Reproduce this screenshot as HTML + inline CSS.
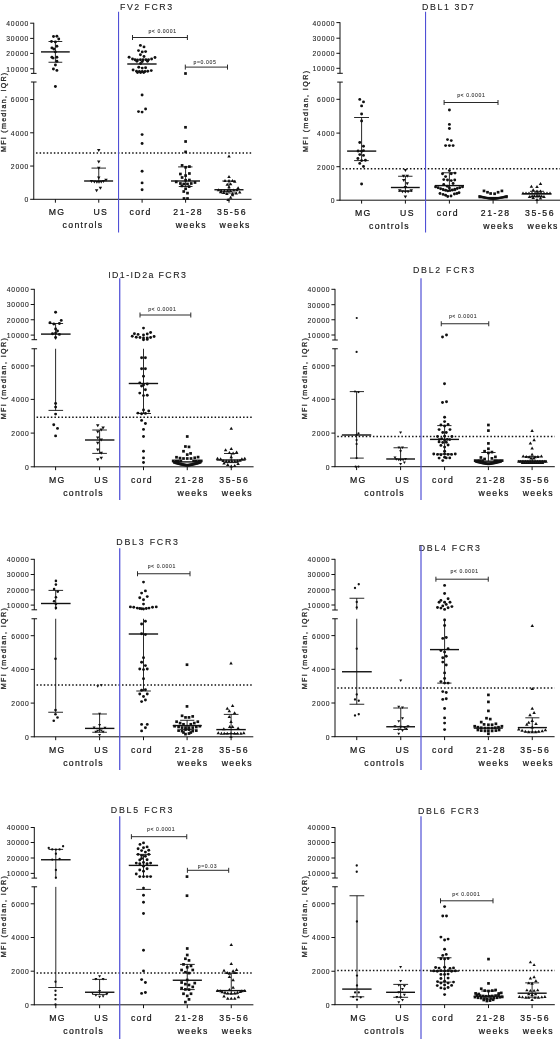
<!DOCTYPE html>
<html><head><meta charset="utf-8"><title>MFI panels</title><style>
html,body{margin:0;padding:0;background:#fff}
body{width:560px;height:1039px;overflow:hidden}
svg{display:block;will-change:transform}
text{font-family:"Liberation Sans",sans-serif;fill:#222;stroke:#222;stroke-width:0.1px}
.yt text{font-size:6.8px;letter-spacing:0.8px;text-anchor:end}
.yl{font-size:7.1px;letter-spacing:1.4px;text-anchor:start;stroke-width:0.28px}
.tt{font-size:8.8px;text-anchor:start}
.xl text{font-size:8.7px;letter-spacing:1.3px;text-anchor:middle;fill:#111;stroke:#111;stroke-width:0.2px}
.xl text.dg{letter-spacing:1.55px}
.pv{font-size:5.1px;letter-spacing:0.6px;text-anchor:middle;fill:#444}
</style></head>
<body><svg width="560" height="1039" viewBox="0 0 560 1039">
<rect width="560" height="1039" fill="#fff"/>
<g stroke="#111" stroke-width="1" fill="none">
<path d="M33.75 199.7V82"/>
<path d="M33.75 73.4V22.8"/>
<path d="M33.35 199.3H251.5"/>
<path d="M30.95 82h5.6M30.95 73.4h5.6"/>
<path d="M33.75 199.3h-3.6"/>
<path d="M33.75 166.05h-3.6"/>
<path d="M33.75 132.8h-3.6"/>
<path d="M33.75 99.55h-3.6"/>
<path d="M33.75 68.8h-3.6"/>
<path d="M33.75 53.4h-3.6"/>
<path d="M33.75 38.4h-3.6"/>
<path d="M33.75 23.2h-3.6"/>
<path d="M55.4 199.3v3.4"/>
<path d="M98.75 199.3v3.4"/>
<path d="M142.1 199.3v3.4"/>
<path d="M185.6 199.3v3.4"/>
<path d="M229 199.3v3.4"/>
</g>
<g class="yt">
<text x="29.15" y="202.2">0</text>
<text x="29.15" y="168.95">2000</text>
<text x="29.15" y="135.7">4000</text>
<text x="29.15" y="102.45">6000</text>
<text x="29.15" y="71.7">10000</text>
<text x="29.15" y="56.3">20000</text>
<text x="29.15" y="41.3">30000</text>
<text x="29.15" y="26.1">40000</text>
</g>
<text class="yl" style="letter-spacing:1.28px" transform="translate(5.9 152) rotate(-90)">MFI (median, IQR)</text>
<text class="tt" x="120" y="10" style="letter-spacing:1.51px">FV2 FCR3</text>
<g class="xl">
<text x="57.05" y="214.8">MG</text>
<text x="100.8" y="214.8">US</text>
<text x="83.03" y="228">controls</text>
<text x="140.55" y="214.8">cord</text>
<text class="dg" x="188.25" y="214.8">21-28</text>
<text class="dg" x="232.05" y="214.8">35-56</text>
<text x="191.35" y="228">weeks</text>
<text x="235.15" y="228">weeks</text>
</g>
<path d="M36.05 152.9H251.5" stroke="#111" stroke-width="1.5" stroke-dasharray="1.5 2.06" fill="none"/>
<path d="M118.55 11.8V232.5" stroke="#5050d6" stroke-width="1.1" fill="none"/>
<g fill="#111">
<circle cx="53.5" cy="36.5" r="1.45"/>
<circle cx="56.9" cy="36.25" r="1.45"/>
<circle cx="58.75" cy="39" r="1.45"/>
<circle cx="51.5" cy="41.5" r="1.45"/>
<circle cx="55.4" cy="41.9" r="1.45"/>
<circle cx="56.9" cy="46.25" r="1.45"/>
<circle cx="51.9" cy="47.9" r="1.45"/>
<circle cx="53.75" cy="49" r="1.45"/>
<circle cx="55.4" cy="51.9" r="1.45"/>
<circle cx="51.9" cy="57.25" r="1.45"/>
<circle cx="53.1" cy="58.1" r="1.45"/>
<circle cx="56.9" cy="57.25" r="1.45"/>
<circle cx="56.9" cy="61.25" r="1.45"/>
<circle cx="55.4" cy="65" r="1.45"/>
<circle cx="53.4" cy="69" r="1.45"/>
<circle cx="56.9" cy="70.4" r="1.45"/>
<circle cx="55.4" cy="86.5" r="1.45"/>
</g>
<path d="M41 51.9H69.75" stroke="#111" stroke-width="1.4" fill="none"/>
<path d="M48.5 41.5H62.25M48.5 62.25H62.25M55.4 41.5V62.25" stroke="#111" stroke-width="0.9" fill="none"/>
<g fill="#111">
<path d="M98.75 151.95l1.75 -3h-3.5z"/>
<path d="M98.75 163.6l1.75 -3h-3.5z"/>
<path d="M98.75 169.8l1.75 -3h-3.5z"/>
<path d="M98.75 179.45l1.75 -3h-3.5z"/>
<path d="M91.5 182.95l1.75 -3h-3.5z"/>
<path d="M94.4 183.6l1.75 -3h-3.5z"/>
<path d="M96.9 183.8l1.75 -3h-3.5z"/>
<path d="M99 183.8l1.75 -3h-3.5z"/>
<path d="M101.25 183.6l1.75 -3h-3.5z"/>
<path d="M103.5 182.95l1.75 -3h-3.5z"/>
<path d="M106 181.7l1.75 -3h-3.5z"/>
<path d="M100.4 189.8l1.75 -3h-3.5z"/>
<path d="M96.6 192.3l1.75 -3h-3.5z"/>
</g>
<path d="M84.1 181H113.1" stroke="#111" stroke-width="1.4" fill="none"/>
<path d="M91.5 168.1H106M98.75 168.1V181" stroke="#111" stroke-width="0.9" fill="none"/>
<g fill="#111">
<circle cx="140.4" cy="45.4" r="1.45"/>
<circle cx="144" cy="46.9" r="1.45"/>
<circle cx="138.5" cy="50.6" r="1.45"/>
<circle cx="142.25" cy="51.9" r="1.45"/>
<circle cx="145.6" cy="51.6" r="1.45"/>
<circle cx="140.4" cy="54.75" r="1.45"/>
<circle cx="144" cy="56.5" r="1.45"/>
<circle cx="129.1" cy="57.25" r="1.45"/>
<circle cx="132.5" cy="59" r="1.45"/>
<circle cx="135" cy="59.75" r="1.45"/>
<circle cx="137.5" cy="60" r="1.45"/>
<circle cx="140.4" cy="59.75" r="1.45"/>
<circle cx="143.1" cy="59.75" r="1.45"/>
<circle cx="145.9" cy="59.75" r="1.45"/>
<circle cx="148.5" cy="59.75" r="1.45"/>
<circle cx="151.6" cy="59" r="1.45"/>
<circle cx="155" cy="57.5" r="1.45"/>
<circle cx="136.9" cy="61.25" r="1.45"/>
<circle cx="142.25" cy="61.6" r="1.45"/>
<circle cx="147.5" cy="61.25" r="1.45"/>
<circle cx="140.6" cy="63.5" r="1.45"/>
<circle cx="138.75" cy="67.25" r="1.45"/>
<circle cx="142.25" cy="68.1" r="1.45"/>
<circle cx="145.6" cy="67.75" r="1.45"/>
<circle cx="133.1" cy="70" r="1.45"/>
<circle cx="136.5" cy="71.25" r="1.45"/>
<circle cx="139.4" cy="71.5" r="1.45"/>
<circle cx="142.25" cy="71.5" r="1.45"/>
<circle cx="145" cy="71.5" r="1.45"/>
<circle cx="147.75" cy="71.25" r="1.45"/>
<circle cx="151.25" cy="70.6" r="1.45"/>
<circle cx="137.5" cy="72.5" r="1.45"/>
<circle cx="140.6" cy="72.5" r="1.45"/>
<circle cx="143.75" cy="72.5" r="1.45"/>
<circle cx="142.1" cy="95" r="1.45"/>
<circle cx="145.6" cy="109" r="1.45"/>
<circle cx="138.5" cy="111.6" r="1.45"/>
<circle cx="142.1" cy="112.1" r="1.45"/>
<circle cx="142.1" cy="134.6" r="1.45"/>
<circle cx="142.1" cy="143.5" r="1.45"/>
<circle cx="142.1" cy="171.25" r="1.45"/>
<circle cx="142.1" cy="182.9" r="1.45"/>
<circle cx="142.1" cy="189.75" r="1.45"/>
</g>
<path d="M127.25 64H156.6" stroke="#111" stroke-width="1.4" fill="none"/>
<g fill="#111">
<rect x="184.15" y="72.15" width="2.7" height="2.7"/>
<rect x="184.15" y="125.95" width="2.7" height="2.7"/>
<rect x="184.25" y="140.15" width="2.7" height="2.7"/>
<rect x="184.25" y="150.55" width="2.7" height="2.7"/>
<rect x="180.75" y="164.05" width="2.7" height="2.7"/>
<rect x="184.25" y="165.9" width="2.7" height="2.7"/>
<rect x="188.05" y="165.25" width="2.7" height="2.7"/>
<rect x="179.05" y="172.65" width="2.7" height="2.7"/>
<rect x="188.05" y="172.15" width="2.7" height="2.7"/>
<rect x="184.25" y="174.25" width="2.7" height="2.7"/>
<rect x="180.75" y="176.15" width="2.7" height="2.7"/>
<rect x="188.05" y="178.65" width="2.7" height="2.7"/>
<rect x="184.25" y="178.9" width="2.7" height="2.7"/>
<rect x="174.9" y="180.55" width="2.7" height="2.7"/>
<rect x="193.65" y="181.15" width="2.7" height="2.7"/>
<rect x="179.05" y="182.15" width="2.7" height="2.7"/>
<rect x="182.4" y="182.65" width="2.7" height="2.7"/>
<rect x="186.15" y="182.65" width="2.7" height="2.7"/>
<rect x="189.9" y="182.15" width="2.7" height="2.7"/>
<rect x="180.55" y="184.55" width="2.7" height="2.7"/>
<rect x="187.75" y="185.25" width="2.7" height="2.7"/>
<rect x="184.25" y="187.4" width="2.7" height="2.7"/>
<rect x="182.4" y="190.15" width="2.7" height="2.7"/>
<rect x="186.15" y="191.75" width="2.7" height="2.7"/>
<rect x="182.65" y="197.15" width="2.7" height="2.7"/>
<rect x="186.15" y="197.15" width="2.7" height="2.7"/>
</g>
<path d="M171 181H200" stroke="#111" stroke-width="1.4" fill="none"/>
<path d="M178.1 166.9H192.5M178.75 186.5H192.5M185.6 166.9V186.5" stroke="#111" stroke-width="0.9" fill="none"/>
<g fill="#111">
<path d="M229 154.55l1.75 3h-3.5z"/>
<path d="M229 174.9l1.75 3h-3.5z"/>
<path d="M225 178.9l1.75 3h-3.5z"/>
<path d="M229 178.9l1.75 3h-3.5z"/>
<path d="M232.5 178.9l1.75 3h-3.5z"/>
<path d="M234.75 179.8l1.75 3h-3.5z"/>
<path d="M227.25 182.7l1.75 3h-3.5z"/>
<path d="M230.6 182.3l1.75 3h-3.5z"/>
<path d="M229 185.2l1.75 3h-3.5z"/>
<path d="M238.1 186.2l1.75 3h-3.5z"/>
<path d="M218.5 188.3l1.75 3h-3.5z"/>
<path d="M221.25 188.9l1.75 3h-3.5z"/>
<path d="M224.4 188.9l1.75 3h-3.5z"/>
<path d="M227.5 188.9l1.75 3h-3.5z"/>
<path d="M230.6 188.9l1.75 3h-3.5z"/>
<path d="M233.75 188.55l1.75 3h-3.5z"/>
<path d="M236.9 188.3l1.75 3h-3.5z"/>
<path d="M220.6 190.2l1.75 3h-3.5z"/>
<path d="M223.75 191.05l1.75 3h-3.5z"/>
<path d="M226.9 192.05l1.75 3h-3.5z"/>
<path d="M232.5 192.05l1.75 3h-3.5z"/>
<path d="M236.25 191.4l1.75 3h-3.5z"/>
<path d="M239.75 190.55l1.75 3h-3.5z"/>
<path d="M232.5 193.3l1.75 3h-3.5z"/>
<path d="M230.6 195.8l1.75 3h-3.5z"/>
<path d="M228.1 198.05l1.75 3h-3.5z"/>
</g>
<path d="M214.4 189.75H243.5" stroke="#111" stroke-width="1.4" fill="none"/>
<path d="M222.25 181H235.6M221 193H237M229 181V193" stroke="#111" stroke-width="0.9" fill="none"/>
<path d="M132.5 37.5H187.4M132.5 35v5M187.4 35v5" stroke="#2a2a2a" stroke-width="1" fill="none"/>
<text class="pv" x="162.5" y="33.3">p&lt; 0.0001</text>
<path d="M185.3 67.1H227.5M185.3 64.6v5M227.5 64.6v5" stroke="#2a2a2a" stroke-width="1" fill="none"/>
<text class="pv" x="205" y="63.9">p=0.005</text>
<g stroke="#111" stroke-width="1" fill="none">
<path d="M340 200.6V82.1"/>
<path d="M340 73.3V22.2"/>
<path d="M339.6 200.2H560"/>
<path d="M337.2 82.1h5.6M337.2 73.3h5.6"/>
<path d="M340 200.2h-3.6"/>
<path d="M340 166.7h-3.6"/>
<path d="M340 133.1h-3.6"/>
<path d="M340 99.3h-3.6"/>
<path d="M340 68.3h-3.6"/>
<path d="M340 53.3h-3.6"/>
<path d="M340 38.2h-3.6"/>
<path d="M340 22.6h-3.6"/>
<path d="M361.6 200.2v3.4"/>
<path d="M405.4 200.2v3.4"/>
<path d="M449.4 200.2v3.4"/>
<path d="M493.1 200.2v3.4"/>
<path d="M537 200.2v3.4"/>
</g>
<g class="yt">
<text x="335.4" y="203.1">0</text>
<text x="335.4" y="169.6">2000</text>
<text x="335.4" y="136">4000</text>
<text x="335.4" y="102.2">6000</text>
<text x="335.4" y="71.2">10000</text>
<text x="335.4" y="56.2">20000</text>
<text x="335.4" y="41.1">30000</text>
<text x="335.4" y="25.5">40000</text>
</g>
<text class="yl" style="letter-spacing:1.4px" transform="translate(308 152.1) rotate(-90)">MFI (median, IQR)</text>
<text class="tt" x="422" y="10" style="letter-spacing:1.59px">DBL1 3D7</text>
<g class="xl">
<text x="363.25" y="215.5">MG</text>
<text x="407.45" y="215.5">US</text>
<text x="389.45" y="228.7">controls</text>
<text x="447.85" y="215.5">cord</text>
<text class="dg" x="495.75" y="215.5">21-28</text>
<text class="dg" x="540.05" y="215.5">35-56</text>
<text x="498.85" y="228.7">weeks</text>
<text x="543.15" y="228.7">weeks</text>
</g>
<path d="M342.3 168.75H560" stroke="#111" stroke-width="1.5" stroke-dasharray="1.5 2.06" fill="none"/>
<path d="M425.55 11.8V232.5" stroke="#5050d6" stroke-width="1.1" fill="none"/>
<g fill="#111">
<circle cx="359.75" cy="99.4" r="1.45"/>
<circle cx="363.5" cy="101.9" r="1.45"/>
<circle cx="361.6" cy="105.9" r="1.45"/>
<circle cx="361.6" cy="114" r="1.45"/>
<circle cx="361.6" cy="121" r="1.45"/>
<circle cx="359.75" cy="142.5" r="1.45"/>
<circle cx="363.5" cy="146.25" r="1.45"/>
<circle cx="358.1" cy="151" r="1.45"/>
<circle cx="363.5" cy="150.6" r="1.45"/>
<circle cx="361.6" cy="151.2" r="1.45"/>
<circle cx="359.75" cy="154.6" r="1.45"/>
<circle cx="363.5" cy="155.4" r="1.45"/>
<circle cx="357.9" cy="158.5" r="1.45"/>
<circle cx="361.6" cy="160.6" r="1.45"/>
<circle cx="365.4" cy="160.25" r="1.45"/>
<circle cx="359.75" cy="163.4" r="1.45"/>
<circle cx="363.5" cy="166.5" r="1.45"/>
<circle cx="361.6" cy="184" r="1.45"/>
</g>
<path d="M347.1 151.1H376.25" stroke="#111" stroke-width="1.4" fill="none"/>
<path d="M354.1 117.5H369M354.1 160.6H368.75M361.6 117.5V160.6" stroke="#111" stroke-width="0.9" fill="none"/>
<g fill="#111">
<path d="M405.4 171.95l1.75 -3h-3.5z"/>
<path d="M403.5 177.7l1.75 -3h-3.5z"/>
<path d="M407.25 177.7l1.75 -3h-3.5z"/>
<path d="M403.75 182.1l1.75 -3h-3.5z"/>
<path d="M407.25 185.2l1.75 -3h-3.5z"/>
<path d="M405.4 188.95l1.75 -3h-3.5z"/>
<path d="M399.75 192.3l1.75 -3h-3.5z"/>
<path d="M402.5 193.2l1.75 -3h-3.5z"/>
<path d="M405.4 193.6l1.75 -3h-3.5z"/>
<path d="M408.1 193.2l1.75 -3h-3.5z"/>
<path d="M411.25 192.3l1.75 -3h-3.5z"/>
<path d="M405.4 198.6l1.75 -3h-3.5z"/>
</g>
<path d="M390.9 187.5H419.75" stroke="#111" stroke-width="1.4" fill="none"/>
<path d="M398.1 176.25H412.5M398.1 191.25H412.5M405.4 176.25V191.25" stroke="#111" stroke-width="0.9" fill="none"/>
<g fill="#111">
<circle cx="449.4" cy="110" r="1.45"/>
<circle cx="449.4" cy="124.4" r="1.45"/>
<circle cx="449.4" cy="128.5" r="1.45"/>
<circle cx="447.5" cy="139.6" r="1.45"/>
<circle cx="451.25" cy="140.6" r="1.45"/>
<circle cx="445.6" cy="145.6" r="1.45"/>
<circle cx="449.4" cy="145.6" r="1.45"/>
<circle cx="453.1" cy="145.6" r="1.45"/>
<circle cx="449.4" cy="170.6" r="1.45"/>
<circle cx="442.5" cy="173.75" r="1.45"/>
<circle cx="451.25" cy="173.75" r="1.45"/>
<circle cx="455" cy="173.1" r="1.45"/>
<circle cx="445.6" cy="176.6" r="1.45"/>
<circle cx="443.75" cy="179.6" r="1.45"/>
<circle cx="447.5" cy="180" r="1.45"/>
<circle cx="451.25" cy="180.6" r="1.45"/>
<circle cx="454.75" cy="180" r="1.45"/>
<circle cx="453.1" cy="183.5" r="1.45"/>
<circle cx="443.75" cy="184.4" r="1.45"/>
<circle cx="447.25" cy="186.25" r="1.45"/>
<circle cx="449.4" cy="188" r="1.45"/>
<circle cx="435.6" cy="186.9" r="1.45"/>
<circle cx="438.1" cy="187.75" r="1.45"/>
<circle cx="440.6" cy="188.75" r="1.45"/>
<circle cx="443.1" cy="189.5" r="1.45"/>
<circle cx="445.6" cy="190.25" r="1.45"/>
<circle cx="447.75" cy="190.9" r="1.45"/>
<circle cx="450" cy="190.6" r="1.45"/>
<circle cx="452.25" cy="190" r="1.45"/>
<circle cx="454.75" cy="189.25" r="1.45"/>
<circle cx="457.25" cy="188.5" r="1.45"/>
<circle cx="459.75" cy="187.75" r="1.45"/>
<circle cx="462.5" cy="186.9" r="1.45"/>
<circle cx="440" cy="193.5" r="1.45"/>
<circle cx="443.1" cy="194.4" r="1.45"/>
<circle cx="445.6" cy="195.25" r="1.45"/>
<circle cx="447.75" cy="196.5" r="1.45"/>
<circle cx="451" cy="196" r="1.45"/>
<circle cx="454.4" cy="194" r="1.45"/>
<circle cx="456.9" cy="193.5" r="1.45"/>
<circle cx="459" cy="192.75" r="1.45"/>
</g>
<path d="M434.75 185.6H464" stroke="#111" stroke-width="1.4" fill="none"/>
<path d="M442.5 172.75H456.25M442.5 190.6H456.25M449.4 172.75V190.6" stroke="#111" stroke-width="0.9" fill="none"/>
<g fill="#111">
<rect x="482.65" y="189.55" width="2.7" height="2.7"/>
<rect x="486.15" y="190.9" width="2.7" height="2.7"/>
<rect x="489.25" y="192.15" width="2.7" height="2.7"/>
<rect x="493.25" y="192.4" width="2.7" height="2.7"/>
<rect x="496.75" y="190.9" width="2.7" height="2.7"/>
<rect x="500.55" y="189.55" width="2.7" height="2.7"/>
</g>
<path d="M478.5 197.6H507.7" stroke="#111" stroke-width="1.4" fill="none"/>
<g fill="#111">
<rect x="478.27" y="195.17" width="2.16" height="2.16"/>
<rect x="479.19" y="195.42" width="2.16" height="2.16"/>
<rect x="480.1" y="195.65" width="2.16" height="2.16"/>
<rect x="481.02" y="195.88" width="2.16" height="2.16"/>
<rect x="481.94" y="196.1" width="2.16" height="2.16"/>
<rect x="482.85" y="196.31" width="2.16" height="2.16"/>
<rect x="483.77" y="196.51" width="2.16" height="2.16"/>
<rect x="484.69" y="196.7" width="2.16" height="2.16"/>
<rect x="485.6" y="196.87" width="2.16" height="2.16"/>
<rect x="486.52" y="197.04" width="2.16" height="2.16"/>
<rect x="487.44" y="197.19" width="2.16" height="2.16"/>
<rect x="488.35" y="197.33" width="2.16" height="2.16"/>
<rect x="489.27" y="197.45" width="2.16" height="2.16"/>
<rect x="490.19" y="197.55" width="2.16" height="2.16"/>
<rect x="491.1" y="197.63" width="2.16" height="2.16"/>
<rect x="492.02" y="197.67" width="2.16" height="2.16"/>
<rect x="492.94" y="197.63" width="2.16" height="2.16"/>
<rect x="493.85" y="197.55" width="2.16" height="2.16"/>
<rect x="494.77" y="197.45" width="2.16" height="2.16"/>
<rect x="495.69" y="197.33" width="2.16" height="2.16"/>
<rect x="496.6" y="197.19" width="2.16" height="2.16"/>
<rect x="497.52" y="197.04" width="2.16" height="2.16"/>
<rect x="498.44" y="196.87" width="2.16" height="2.16"/>
<rect x="499.35" y="196.7" width="2.16" height="2.16"/>
<rect x="500.27" y="196.51" width="2.16" height="2.16"/>
<rect x="501.19" y="196.31" width="2.16" height="2.16"/>
<rect x="502.1" y="196.1" width="2.16" height="2.16"/>
<rect x="503.02" y="195.88" width="2.16" height="2.16"/>
<rect x="503.94" y="195.65" width="2.16" height="2.16"/>
<rect x="504.85" y="195.42" width="2.16" height="2.16"/>
<rect x="505.77" y="195.17" width="2.16" height="2.16"/>
</g>
<g fill="#111">
<path d="M540.5 182.05l1.75 3h-3.5z"/>
<path d="M531.4 184.7l1.75 3h-3.5z"/>
<path d="M537 185.05l1.75 3h-3.5z"/>
<path d="M533.2 188.2l1.75 3h-3.5z"/>
<path d="M537 189.55l1.75 3h-3.5z"/>
<path d="M540.5 189.55l1.75 3h-3.5z"/>
<path d="M523 191.5l1.75 3h-3.5z"/>
<path d="M526 191.5l1.75 3h-3.5z"/>
<path d="M529 191.5l1.75 3h-3.5z"/>
<path d="M532 191.5l1.75 3h-3.5z"/>
<path d="M535 191.5l1.75 3h-3.5z"/>
<path d="M538 191.5l1.75 3h-3.5z"/>
<path d="M541 191.5l1.75 3h-3.5z"/>
<path d="M544 191.5l1.75 3h-3.5z"/>
<path d="M547 191.5l1.75 3h-3.5z"/>
<path d="M550 191.5l1.75 3h-3.5z"/>
<path d="M529.5 194.9l1.75 3h-3.5z"/>
<path d="M532.2 194.4l1.75 3h-3.5z"/>
<path d="M534.3 194.2l1.75 3h-3.5z"/>
<path d="M537 194.4l1.75 3h-3.5z"/>
<path d="M539.1 194.2l1.75 3h-3.5z"/>
<path d="M541.3 194.4l1.75 3h-3.5z"/>
<path d="M544 194.9l1.75 3h-3.5z"/>
<path d="M533.2 196l1.75 3h-3.5z"/>
<path d="M540.5 196.5l1.75 3h-3.5z"/>
<path d="M537 198.1l1.75 3h-3.5z"/>
</g>
<path d="M522.3 193.7H551.4" stroke="#111" stroke-width="1.4" fill="none"/>
<path d="M530 191.3H544M530 196.3H544M537 191.3V196.3" stroke="#111" stroke-width="0.9" fill="none"/>
<path d="M444.1 102.5H498M444.1 100v5M498 100v5" stroke="#2a2a2a" stroke-width="1" fill="none"/>
<text class="pv" x="471.25" y="96.8">p&lt; 0.0001</text>
<g stroke="#111" stroke-width="1" fill="none">
<path d="M34.3 467.2V348.75"/>
<path d="M34.3 339.7V288.9"/>
<path d="M33.9 466.8H253.6"/>
<path d="M31.5 348.75h5.6M31.5 339.7h5.6"/>
<path d="M34.3 466.8h-3.6"/>
<path d="M34.3 433.1h-3.6"/>
<path d="M34.3 399.4h-3.6"/>
<path d="M34.3 365.9h-3.6"/>
<path d="M34.3 335.1h-3.6"/>
<path d="M34.3 319.75h-3.6"/>
<path d="M34.3 304.5h-3.6"/>
<path d="M34.3 289.3h-3.6"/>
<path d="M55.6 466.8v3.4"/>
<path d="M99.6 466.8v3.4"/>
<path d="M143.5 466.8v3.4"/>
<path d="M187.25 466.8v3.4"/>
<path d="M231.25 466.8v3.4"/>
</g>
<g class="yt">
<text x="29.7" y="469.7">0</text>
<text x="29.7" y="436">2000</text>
<text x="29.7" y="402.3">4000</text>
<text x="29.7" y="368.8">6000</text>
<text x="29.7" y="338">10000</text>
<text x="29.7" y="322.65">20000</text>
<text x="29.7" y="307.4">30000</text>
<text x="29.7" y="292.2">40000</text>
</g>
<text class="yl" style="letter-spacing:1.4px" transform="translate(5.9 419.3) rotate(-90)">MFI (median, IQR)</text>
<text class="tt" x="108.25" y="277.5" style="letter-spacing:1.41px">ID1-ID2a FCR3</text>
<g class="xl">
<text x="57.25" y="482.6">MG</text>
<text x="101.65" y="482.6">US</text>
<text x="83.55" y="495.8">controls</text>
<text x="141.95" y="482.6">cord</text>
<text class="dg" x="189.9" y="482.6">21-28</text>
<text class="dg" x="234.3" y="482.6">35-56</text>
<text x="193" y="495.8">weeks</text>
<text x="237.4" y="495.8">weeks</text>
</g>
<path d="M36.6 417.25H253.6" stroke="#111" stroke-width="1.5" stroke-dasharray="1.5 2.06" fill="none"/>
<path d="M119.73 278.3V500" stroke="#5050d6" stroke-width="1.25" fill="none"/>
<g fill="#111">
<circle cx="55.6" cy="312.25" r="1.45"/>
<circle cx="61.25" cy="320.4" r="1.45"/>
<circle cx="50" cy="322.75" r="1.45"/>
<circle cx="53.75" cy="324" r="1.45"/>
<circle cx="59.4" cy="323.5" r="1.45"/>
<circle cx="55.6" cy="329" r="1.45"/>
<circle cx="57.5" cy="331" r="1.45"/>
<circle cx="52.5" cy="333.75" r="1.45"/>
<circle cx="55.6" cy="333.1" r="1.45"/>
<circle cx="59.4" cy="334.4" r="1.45"/>
<circle cx="55.6" cy="337.5" r="1.45"/>
<circle cx="55.6" cy="403.4" r="1.45"/>
<circle cx="55.6" cy="407.1" r="1.45"/>
<circle cx="55.6" cy="414.1" r="1.45"/>
<circle cx="53.75" cy="424.75" r="1.45"/>
<circle cx="57.5" cy="428.4" r="1.45"/>
<circle cx="55.6" cy="435.9" r="1.45"/>
</g>
<path d="M41 334.1H70.6" stroke="#111" stroke-width="1.4" fill="none"/>
<path d="M48.75 323.5H63.1M48.5 410.4H63.1M55.6 323.5V339.6M55.6 348.75V410.4" stroke="#111" stroke-width="0.9" fill="none"/>
<g fill="#111">
<path d="M97.75 427.3l1.75 -3h-3.5z"/>
<path d="M103.1 429.6l1.75 -3h-3.5z"/>
<path d="M101.25 431.45l1.75 -3h-3.5z"/>
<path d="M97.75 433.6l1.75 -3h-3.5z"/>
<path d="M97.75 439.45l1.75 -3h-3.5z"/>
<path d="M101.25 441.45l1.75 -3h-3.5z"/>
<path d="M97.75 444.8l1.75 -3h-3.5z"/>
<path d="M97.75 451.45l1.75 -3h-3.5z"/>
<path d="M101.25 454.8l1.75 -3h-3.5z"/>
<path d="M101.25 459.8l1.75 -3h-3.5z"/>
<path d="M97.75 461.3l1.75 -3h-3.5z"/>
</g>
<path d="M85 440H114.4" stroke="#111" stroke-width="1.4" fill="none"/>
<path d="M92.25 430H106.9M92.25 453.4H106.9M99.6 430V453.4" stroke="#111" stroke-width="0.9" fill="none"/>
<g fill="#111">
<circle cx="143.5" cy="328.1" r="1.45"/>
<circle cx="134.4" cy="333.75" r="1.45"/>
<circle cx="138.1" cy="334.4" r="1.45"/>
<circle cx="143.5" cy="335" r="1.45"/>
<circle cx="147.25" cy="334" r="1.45"/>
<circle cx="150.6" cy="332.5" r="1.45"/>
<circle cx="132.25" cy="336.25" r="1.45"/>
<circle cx="136.25" cy="337.25" r="1.45"/>
<circle cx="140" cy="337.5" r="1.45"/>
<circle cx="143.5" cy="337.9" r="1.45"/>
<circle cx="147.25" cy="337.9" r="1.45"/>
<circle cx="150.6" cy="337.5" r="1.45"/>
<circle cx="154.1" cy="336.5" r="1.45"/>
<circle cx="143.5" cy="339.75" r="1.45"/>
<circle cx="147.25" cy="339.4" r="1.45"/>
<circle cx="141.6" cy="357.75" r="1.45"/>
<circle cx="145.4" cy="357.75" r="1.45"/>
<circle cx="141.6" cy="368.75" r="1.45"/>
<circle cx="145.4" cy="368.75" r="1.45"/>
<circle cx="143.5" cy="376.25" r="1.45"/>
<circle cx="139.75" cy="382.9" r="1.45"/>
<circle cx="147.25" cy="384" r="1.45"/>
<circle cx="141.6" cy="386" r="1.45"/>
<circle cx="143.5" cy="385" r="1.45"/>
<circle cx="145.4" cy="389.75" r="1.45"/>
<circle cx="139.75" cy="393.1" r="1.45"/>
<circle cx="143.5" cy="395.6" r="1.45"/>
<circle cx="147.25" cy="395.25" r="1.45"/>
<circle cx="143.5" cy="410" r="1.45"/>
<circle cx="148.75" cy="411" r="1.45"/>
<circle cx="137.9" cy="413.1" r="1.45"/>
<circle cx="141.6" cy="413.75" r="1.45"/>
<circle cx="145.4" cy="413.4" r="1.45"/>
<circle cx="141.6" cy="420.4" r="1.45"/>
<circle cx="145.4" cy="423.5" r="1.45"/>
<circle cx="143.5" cy="429.4" r="1.45"/>
<circle cx="143.5" cy="436.5" r="1.45"/>
<circle cx="143.5" cy="451.25" r="1.45"/>
<circle cx="143.5" cy="457.9" r="1.45"/>
<circle cx="143.5" cy="462.5" r="1.45"/>
</g>
<path d="M128.75 383.5H158.1" stroke="#111" stroke-width="1.4" fill="none"/>
<path d="M136.5 413.5H151M143.5 348.75V413.5" stroke="#111" stroke-width="0.9" fill="none"/>
<g fill="#111">
<rect x="185.9" y="435.15" width="2.7" height="2.7"/>
<rect x="184.05" y="445.15" width="2.7" height="2.7"/>
<rect x="187.65" y="445.55" width="2.7" height="2.7"/>
<rect x="182.15" y="449.9" width="2.7" height="2.7"/>
<rect x="189.25" y="452.05" width="2.7" height="2.7"/>
<rect x="185.9" y="453.25" width="2.7" height="2.7"/>
<rect x="175.15" y="455.9" width="2.7" height="2.7"/>
<rect x="178.65" y="456.75" width="2.7" height="2.7"/>
<rect x="182.15" y="457.15" width="2.7" height="2.7"/>
<rect x="185.9" y="457.15" width="2.7" height="2.7"/>
<rect x="189.65" y="457.15" width="2.7" height="2.7"/>
<rect x="193.4" y="456.4" width="2.7" height="2.7"/>
<rect x="196.75" y="455.75" width="2.7" height="2.7"/>
<rect x="171.85" y="459.55" width="2.7" height="2.7"/>
<rect x="174.4" y="459.55" width="2.7" height="2.7"/>
<rect x="176.95" y="459.55" width="2.7" height="2.7"/>
<rect x="179.5" y="459.55" width="2.7" height="2.7"/>
<rect x="192.25" y="459.55" width="2.7" height="2.7"/>
<rect x="194.8" y="459.55" width="2.7" height="2.7"/>
<rect x="197.35" y="459.55" width="2.7" height="2.7"/>
<rect x="199.9" y="459.55" width="2.7" height="2.7"/>
<rect x="173.1" y="461.05" width="2.7" height="2.7"/>
<rect x="174.26" y="461.39" width="2.7" height="2.7"/>
<rect x="175.43" y="461.72" width="2.7" height="2.7"/>
<rect x="176.59" y="462.03" width="2.7" height="2.7"/>
<rect x="177.75" y="462.34" width="2.7" height="2.7"/>
<rect x="178.92" y="462.63" width="2.7" height="2.7"/>
<rect x="180.08" y="462.91" width="2.7" height="2.7"/>
<rect x="181.25" y="463.17" width="2.7" height="2.7"/>
<rect x="182.41" y="463.41" width="2.7" height="2.7"/>
<rect x="183.57" y="463.63" width="2.7" height="2.7"/>
<rect x="184.74" y="463.82" width="2.7" height="2.7"/>
<rect x="185.9" y="463.95" width="2.7" height="2.7"/>
<rect x="187.06" y="463.82" width="2.7" height="2.7"/>
<rect x="188.23" y="463.63" width="2.7" height="2.7"/>
<rect x="189.39" y="463.41" width="2.7" height="2.7"/>
<rect x="190.55" y="463.17" width="2.7" height="2.7"/>
<rect x="191.72" y="462.91" width="2.7" height="2.7"/>
<rect x="192.88" y="462.63" width="2.7" height="2.7"/>
<rect x="194.05" y="462.34" width="2.7" height="2.7"/>
<rect x="195.21" y="462.03" width="2.7" height="2.7"/>
<rect x="196.37" y="461.72" width="2.7" height="2.7"/>
<rect x="197.54" y="461.39" width="2.7" height="2.7"/>
<rect x="198.7" y="461.05" width="2.7" height="2.7"/>
</g>
<path d="M172.6 461.9H202" stroke="#111" stroke-width="1.4" fill="none"/>
<g fill="#111">
<path d="M231.25 426.8l1.75 3h-3.5z"/>
<path d="M231.25 447.05l1.75 3h-3.5z"/>
<path d="M225.6 448.3l1.75 3h-3.5z"/>
<path d="M229.4 451.05l1.75 3h-3.5z"/>
<path d="M233.1 451.4l1.75 3h-3.5z"/>
<path d="M236.6 450.55l1.75 3h-3.5z"/>
<path d="M231.25 455.2l1.75 3h-3.5z"/>
<path d="M217.5 456.8l1.75 3h-3.5z"/>
<path d="M220.6 457.3l1.75 3h-3.5z"/>
<path d="M241.9 457.3l1.75 3h-3.5z"/>
<path d="M244.75 456.8l1.75 3h-3.5z"/>
<path d="M223.1 458.9l1.75 3h-3.5z"/>
<path d="M226.25 459.55l1.75 3h-3.5z"/>
<path d="M229 459.55l1.75 3h-3.5z"/>
<path d="M231.9 459.55l1.75 3h-3.5z"/>
<path d="M234.75 459.55l1.75 3h-3.5z"/>
<path d="M237.5 459.3l1.75 3h-3.5z"/>
<path d="M240 458.7l1.75 3h-3.5z"/>
<path d="M224 461.4l1.75 3h-3.5z"/>
<path d="M238.1 462.05l1.75 3h-3.5z"/>
<path d="M227.75 463.05l1.75 3h-3.5z"/>
<path d="M234.75 463.9l1.75 3h-3.5z"/>
<path d="M231.25 464.55l1.75 3h-3.5z"/>
</g>
<path d="M216.5 460H245.6" stroke="#111" stroke-width="1.4" fill="none"/>
<path d="M224 453.5H238.1M224 462.6H238.1M231.25 453.5V462.6" stroke="#111" stroke-width="0.9" fill="none"/>
<path d="M140 315H190.8M140 312.5v5M190.8 312.5v5" stroke="#2a2a2a" stroke-width="1" fill="none"/>
<text class="pv" x="162.25" y="311.2">p&lt; 0.0001</text>
<g stroke="#111" stroke-width="1" fill="none">
<path d="M335 467.1V348.75"/>
<path d="M335 340V288.9"/>
<path d="M334.6 466.7H554.8"/>
<path d="M332.2 348.75h5.6M332.2 340h5.6"/>
<path d="M335 466.7h-3.6"/>
<path d="M335 433.1h-3.6"/>
<path d="M335 399.3h-3.6"/>
<path d="M335 365.8h-3.6"/>
<path d="M335 335h-3.6"/>
<path d="M335 319.75h-3.6"/>
<path d="M335 304.7h-3.6"/>
<path d="M335 289.3h-3.6"/>
<path d="M356.6 466.7v3.4"/>
<path d="M400.6 466.7v3.4"/>
<path d="M444.6 466.7v3.4"/>
<path d="M488.4 466.7v3.4"/>
<path d="M532.1 466.7v3.4"/>
</g>
<g class="yt">
<text x="330.4" y="469.6">0</text>
<text x="330.4" y="436">2000</text>
<text x="330.4" y="402.2">4000</text>
<text x="330.4" y="368.7">6000</text>
<text x="330.4" y="337.9">10000</text>
<text x="330.4" y="322.65">20000</text>
<text x="330.4" y="307.6">30000</text>
<text x="330.4" y="292.2">40000</text>
</g>
<text class="yl" style="letter-spacing:1.4px" transform="translate(307.3 419.3) rotate(-90)">MFI (median, IQR)</text>
<text class="tt" x="413" y="273.25" style="letter-spacing:1.73px">DBL2 FCR3</text>
<g class="xl">
<text x="358.25" y="482.7">MG</text>
<text x="402.65" y="482.7">US</text>
<text x="384.55" y="495.8">controls</text>
<text x="443.05" y="482.7">cord</text>
<text class="dg" x="491.05" y="482.7">21-28</text>
<text class="dg" x="535.15" y="482.7">35-56</text>
<text x="494.15" y="495.8">weeks</text>
<text x="538.25" y="495.8">weeks</text>
</g>
<path d="M337.3 436.5H554.8" stroke="#111" stroke-width="1.5" stroke-dasharray="1.5 2.06" fill="none"/>
<path d="M421 278.3V500.1" stroke="#5050d6" stroke-width="1.2" fill="none"/>
<g fill="#111">
<circle cx="356.75" cy="318" r="1.09"/>
<circle cx="356.6" cy="351.9" r="1.09"/>
<circle cx="355" cy="391.5" r="1.09"/>
<circle cx="358.5" cy="392.1" r="1.09"/>
<circle cx="358.5" cy="433.4" r="1.09"/>
<circle cx="356.6" cy="434.75" r="1.09"/>
<circle cx="356.6" cy="440" r="1.09"/>
<circle cx="356.6" cy="444" r="1.09"/>
<circle cx="356.6" cy="458.1" r="1.09"/>
<circle cx="355.6" cy="466.6" r="1.09"/>
<circle cx="358.5" cy="466.6" r="1.09"/>
</g>
<path d="M341.9 435H371.25" stroke="#111" stroke-width="1.4" fill="none"/>
<path d="M349.75 391.6H364M350 458.1H363.75M356.6 391.6V458.1" stroke="#111" stroke-width="0.9" fill="none"/>
<g fill="#111">
<path d="M400.6 433.94l1.49 -2.55h-2.98z"/>
<path d="M399 448.94l1.49 -2.55h-2.98z"/>
<path d="M402.5 448.94l1.49 -2.55h-2.98z"/>
<path d="M400.6 452.69l1.49 -2.55h-2.98z"/>
<path d="M395 458.94l1.49 -2.55h-2.98z"/>
<path d="M396.25 460.84l1.49 -2.55h-2.98z"/>
<path d="M398.75 461.19l1.49 -2.55h-2.98z"/>
<path d="M400.6 461.44l1.49 -2.55h-2.98z"/>
<path d="M403.1 461.19l1.49 -2.55h-2.98z"/>
<path d="M405.6 460.44l1.49 -2.55h-2.98z"/>
<path d="M404.4 463.94l1.49 -2.55h-2.98z"/>
<path d="M400.6 465.44l1.49 -2.55h-2.98z"/>
</g>
<path d="M386.25 459H415" stroke="#111" stroke-width="1.4" fill="none"/>
<path d="M393.5 447.75H407.75M400.6 447.75V459" stroke="#111" stroke-width="0.9" fill="none"/>
<g fill="#111">
<circle cx="442.5" cy="337" r="1.45"/>
<circle cx="446.5" cy="335" r="1.45"/>
<circle cx="444.5" cy="383.75" r="1.45"/>
<circle cx="442.5" cy="402.5" r="1.45"/>
<circle cx="446.5" cy="401.75" r="1.45"/>
<circle cx="444.6" cy="417.25" r="1.45"/>
<circle cx="444.6" cy="421.6" r="1.45"/>
<circle cx="440.9" cy="425" r="1.45"/>
<circle cx="448.1" cy="424.4" r="1.45"/>
<circle cx="444.6" cy="426" r="1.45"/>
<circle cx="439.1" cy="429.6" r="1.45"/>
<circle cx="450" cy="429.6" r="1.45"/>
<circle cx="442.75" cy="432.5" r="1.45"/>
<circle cx="446.25" cy="432.5" r="1.45"/>
<circle cx="437.5" cy="436.5" r="1.45"/>
<circle cx="444.6" cy="436.25" r="1.45"/>
<circle cx="451.9" cy="436.5" r="1.45"/>
<circle cx="439.1" cy="439.6" r="1.45"/>
<circle cx="441.6" cy="438.75" r="1.45"/>
<circle cx="444.6" cy="440" r="1.45"/>
<circle cx="447.25" cy="439.4" r="1.45"/>
<circle cx="449.75" cy="439.6" r="1.45"/>
<circle cx="439.1" cy="441.9" r="1.45"/>
<circle cx="442.75" cy="442.5" r="1.45"/>
<circle cx="446.25" cy="442.25" r="1.45"/>
<circle cx="440.9" cy="445.4" r="1.45"/>
<circle cx="448.1" cy="445" r="1.45"/>
<circle cx="444.6" cy="447.1" r="1.45"/>
<circle cx="444.6" cy="451.25" r="1.45"/>
<circle cx="433.75" cy="454" r="1.45"/>
<circle cx="437.5" cy="454.4" r="1.45"/>
<circle cx="440.9" cy="454.75" r="1.45"/>
<circle cx="444.6" cy="454" r="1.45"/>
<circle cx="448.1" cy="454.4" r="1.45"/>
<circle cx="451.6" cy="454.4" r="1.45"/>
<circle cx="455.25" cy="454" r="1.45"/>
<circle cx="439.1" cy="458.1" r="1.45"/>
<circle cx="444.6" cy="457.25" r="1.45"/>
<circle cx="446.25" cy="457.9" r="1.45"/>
<circle cx="449.75" cy="457.9" r="1.45"/>
<circle cx="442.75" cy="460.6" r="1.45"/>
</g>
<path d="M430 439.4H459" stroke="#111" stroke-width="1.4" fill="none"/>
<path d="M437.25 425.6H451.5M437.25 454H451.5M444.6 425.6V454" stroke="#111" stroke-width="0.9" fill="none"/>
<g fill="#111">
<rect x="487.05" y="423.65" width="2.7" height="2.7"/>
<rect x="487.05" y="429.25" width="2.7" height="2.7"/>
<rect x="487.05" y="442.05" width="2.7" height="2.7"/>
<rect x="487.05" y="447.4" width="2.7" height="2.7"/>
<rect x="483.25" y="449.9" width="2.7" height="2.7"/>
<rect x="490.55" y="450.75" width="2.7" height="2.7"/>
<rect x="487.05" y="451.55" width="2.7" height="2.7"/>
<rect x="479.55" y="456.15" width="2.7" height="2.7"/>
<rect x="494.05" y="455.55" width="2.7" height="2.7"/>
<rect x="483.25" y="457.65" width="2.7" height="2.7"/>
<rect x="490.55" y="457.05" width="2.7" height="2.7"/>
<rect x="473.85" y="459.25" width="2.7" height="2.7"/>
<rect x="476.3" y="459.25" width="2.7" height="2.7"/>
<rect x="478.75" y="459.25" width="2.7" height="2.7"/>
<rect x="481.2" y="459.25" width="2.7" height="2.7"/>
<rect x="493.45" y="459.25" width="2.7" height="2.7"/>
<rect x="495.9" y="459.25" width="2.7" height="2.7"/>
<rect x="498.35" y="459.25" width="2.7" height="2.7"/>
<rect x="500.8" y="459.25" width="2.7" height="2.7"/>
<rect x="474.85" y="460.05" width="2.7" height="2.7"/>
<rect x="476.07" y="460.36" width="2.7" height="2.7"/>
<rect x="477.29" y="460.65" width="2.7" height="2.7"/>
<rect x="478.51" y="460.94" width="2.7" height="2.7"/>
<rect x="479.73" y="461.21" width="2.7" height="2.7"/>
<rect x="480.95" y="461.48" width="2.7" height="2.7"/>
<rect x="482.17" y="461.72" width="2.7" height="2.7"/>
<rect x="483.39" y="461.95" width="2.7" height="2.7"/>
<rect x="484.61" y="462.15" width="2.7" height="2.7"/>
<rect x="485.83" y="462.33" width="2.7" height="2.7"/>
<rect x="487.05" y="462.45" width="2.7" height="2.7"/>
<rect x="488.27" y="462.33" width="2.7" height="2.7"/>
<rect x="489.49" y="462.15" width="2.7" height="2.7"/>
<rect x="490.71" y="461.95" width="2.7" height="2.7"/>
<rect x="491.93" y="461.72" width="2.7" height="2.7"/>
<rect x="493.15" y="461.48" width="2.7" height="2.7"/>
<rect x="494.37" y="461.21" width="2.7" height="2.7"/>
<rect x="495.59" y="460.94" width="2.7" height="2.7"/>
<rect x="496.81" y="460.65" width="2.7" height="2.7"/>
<rect x="498.03" y="460.36" width="2.7" height="2.7"/>
<rect x="499.25" y="460.05" width="2.7" height="2.7"/>
</g>
<path d="M474 461.2H503" stroke="#111" stroke-width="1.4" fill="none"/>
<path d="M481.25 452.5H495.6M488.4 452.5V461.2" stroke="#111" stroke-width="0.9" fill="none"/>
<g fill="#111">
<path d="M532.1 429l1.75 3h-3.5z"/>
<path d="M534.1 438.3l1.75 3h-3.5z"/>
<path d="M530.4 441.5l1.75 3h-3.5z"/>
<path d="M532.1 446.4l1.75 3h-3.5z"/>
<path d="M532.1 452.8l1.75 3h-3.5z"/>
<path d="M523.2 454.5l1.75 3h-3.5z"/>
<path d="M526.3 455.1l1.75 3h-3.5z"/>
<path d="M529.2 455.3l1.75 3h-3.5z"/>
<path d="M535 455.3l1.75 3h-3.5z"/>
<path d="M537.9 455.1l1.75 3h-3.5z"/>
<path d="M541.4 454.5l1.75 3h-3.5z"/>
<path d="M531 456.5l1.75 3h-3.5z"/>
<path d="M533.9 456.5l1.75 3h-3.5z"/>
<path d="M518.8 459.7l1.75 3h-3.5z"/>
<path d="M520.5 459.7l1.75 3h-3.5z"/>
<path d="M522.2 459.7l1.75 3h-3.5z"/>
<path d="M523.9 459.7l1.75 3h-3.5z"/>
<path d="M525.6 459.7l1.75 3h-3.5z"/>
<path d="M527.3 459.7l1.75 3h-3.5z"/>
<path d="M529 459.7l1.75 3h-3.5z"/>
<path d="M530.7 459.7l1.75 3h-3.5z"/>
<path d="M532.4 459.7l1.75 3h-3.5z"/>
<path d="M534.1 459.7l1.75 3h-3.5z"/>
<path d="M535.8 459.7l1.75 3h-3.5z"/>
<path d="M537.5 459.7l1.75 3h-3.5z"/>
<path d="M539.2 459.7l1.75 3h-3.5z"/>
<path d="M540.9 459.7l1.75 3h-3.5z"/>
<path d="M542.6 459.7l1.75 3h-3.5z"/>
<path d="M544.3 459.7l1.75 3h-3.5z"/>
<path d="M546 459.7l1.75 3h-3.5z"/>
<path d="M522.5 460.9l1.75 3h-3.5z"/>
<path d="M524.5 460.9l1.75 3h-3.5z"/>
<path d="M526.5 460.9l1.75 3h-3.5z"/>
<path d="M528.5 460.9l1.75 3h-3.5z"/>
<path d="M530.5 460.9l1.75 3h-3.5z"/>
<path d="M532.5 460.9l1.75 3h-3.5z"/>
<path d="M534.5 460.9l1.75 3h-3.5z"/>
<path d="M536.5 460.9l1.75 3h-3.5z"/>
<path d="M538.5 460.9l1.75 3h-3.5z"/>
<path d="M540.5 460.9l1.75 3h-3.5z"/>
<path d="M542.5 460.9l1.75 3h-3.5z"/>
</g>
<path d="M517.6 461H546.7" stroke="#111" stroke-width="1.4" fill="none"/>
<path d="M524.6 456.6H539.7M532.1 456.6V461" stroke="#111" stroke-width="0.9" fill="none"/>
<path d="M441.25 323.75H488.75M441.25 321.25v5M488.75 321.25v5" stroke="#2a2a2a" stroke-width="1" fill="none"/>
<text class="pv" x="463" y="317.5">p&lt; 0.0001</text>
<g stroke="#111" stroke-width="1" fill="none">
<path d="M34.3 737.2V618.75"/>
<path d="M34.3 609.8V558.9"/>
<path d="M33.9 736.8H253.3"/>
<path d="M31.5 618.75h5.6M31.5 609.8h5.6"/>
<path d="M34.3 736.8h-3.6"/>
<path d="M34.3 703.1h-3.6"/>
<path d="M34.3 669.4h-3.6"/>
<path d="M34.3 635.7h-3.6"/>
<path d="M34.3 605.1h-3.6"/>
<path d="M34.3 589.9h-3.6"/>
<path d="M34.3 574.5h-3.6"/>
<path d="M34.3 559.3h-3.6"/>
<path d="M55.7 736.8v3.4"/>
<path d="M99.6 736.8v3.4"/>
<path d="M143.5 736.8v3.4"/>
<path d="M187.1 736.8v3.4"/>
<path d="M231.1 736.8v3.4"/>
</g>
<g class="yt">
<text x="29.7" y="739.7">0</text>
<text x="29.7" y="706">2000</text>
<text x="29.7" y="672.3">4000</text>
<text x="29.7" y="638.6">6000</text>
<text x="29.7" y="608">10000</text>
<text x="29.7" y="592.8">20000</text>
<text x="29.7" y="577.4">30000</text>
<text x="29.7" y="562.2">40000</text>
</g>
<text class="yl" style="letter-spacing:1.4px" transform="translate(5.9 689.3) rotate(-90)">MFI (median, IQR)</text>
<text class="tt" x="116.25" y="545" style="letter-spacing:1.79px">DBL3 FCR3</text>
<g class="xl">
<text x="57.35" y="752.6">MG</text>
<text x="101.65" y="752.6">US</text>
<text x="83.6" y="765.8">controls</text>
<text x="141.95" y="752.6">cord</text>
<text class="dg" x="189.75" y="752.6">21-28</text>
<text class="dg" x="234.15" y="752.6">35-56</text>
<text x="192.85" y="765.8">weeks</text>
<text x="237.25" y="765.8">weeks</text>
</g>
<path d="M36.6 685H253.3" stroke="#111" stroke-width="1.5" stroke-dasharray="1.5 2.06" fill="none"/>
<path d="M119.73 548.3V770" stroke="#5050d6" stroke-width="1.25" fill="none"/>
<g fill="#111">
<circle cx="55.9" cy="580.9" r="1.3"/>
<circle cx="55.9" cy="584.6" r="1.3"/>
<circle cx="54.1" cy="589.1" r="1.3"/>
<circle cx="57.75" cy="591.6" r="1.3"/>
<circle cx="55.9" cy="597.25" r="1.3"/>
<circle cx="54.1" cy="601.25" r="1.3"/>
<circle cx="55.9" cy="604.1" r="1.3"/>
<circle cx="55.9" cy="607.9" r="1.3"/>
<circle cx="55.5" cy="658.75" r="1.3"/>
<circle cx="55.5" cy="710" r="1.3"/>
<circle cx="55.5" cy="714.25" r="1.3"/>
<circle cx="57.5" cy="717.5" r="1.3"/>
<circle cx="53.75" cy="720.75" r="1.3"/>
</g>
<path d="M41 603.5H70.6" stroke="#111" stroke-width="1.4" fill="none"/>
<path d="M48.5 590.4H63.1M48.25 712.25H63M55.7 590.4V609.7M55.7 618.75V712.25" stroke="#111" stroke-width="0.9" fill="none"/>
<g fill="#111">
<path d="M97.75 687.7l1.49 -2.55h-2.98z"/>
<path d="M101.25 686.85l1.49 -2.55h-2.98z"/>
<path d="M99.6 715.2l1.49 -2.55h-2.98z"/>
<path d="M99.6 726.45l1.49 -2.55h-2.98z"/>
<path d="M94.1 728.95l1.49 -2.55h-2.98z"/>
<path d="M105 729.35l1.49 -2.55h-2.98z"/>
<path d="M99.6 730.85l1.49 -2.55h-2.98z"/>
<path d="M95.9 733.35l1.49 -2.55h-2.98z"/>
<path d="M103.1 733.35l1.49 -2.55h-2.98z"/>
<path d="M97.75 732.35l1.49 -2.55h-2.98z"/>
<path d="M101.25 732.05l1.49 -2.55h-2.98z"/>
<path d="M99.6 736.45l1.49 -2.55h-2.98z"/>
</g>
<path d="M85 728.4H114.4" stroke="#111" stroke-width="1.4" fill="none"/>
<path d="M92.25 714H106.9M92.25 732.25H106.9M99.6 714V732.25" stroke="#111" stroke-width="0.9" fill="none"/>
<g fill="#111">
<circle cx="143.5" cy="582.1" r="1.45"/>
<circle cx="145.4" cy="590.9" r="1.45"/>
<circle cx="141.6" cy="593.1" r="1.45"/>
<circle cx="147.25" cy="596.6" r="1.45"/>
<circle cx="139.75" cy="597.75" r="1.45"/>
<circle cx="143.5" cy="599.75" r="1.45"/>
<circle cx="143.5" cy="604.1" r="1.45"/>
<circle cx="130.4" cy="606.9" r="1.45"/>
<circle cx="133.75" cy="607.25" r="1.45"/>
<circle cx="137.25" cy="608.1" r="1.45"/>
<circle cx="139.75" cy="608.5" r="1.45"/>
<circle cx="141.6" cy="608.75" r="1.45"/>
<circle cx="143.5" cy="609" r="1.45"/>
<circle cx="146.25" cy="608.5" r="1.45"/>
<circle cx="149" cy="608.1" r="1.45"/>
<circle cx="152.5" cy="607.25" r="1.45"/>
<circle cx="156.25" cy="606.9" r="1.45"/>
<circle cx="145.4" cy="621.25" r="1.45"/>
<circle cx="141.6" cy="624" r="1.45"/>
<circle cx="141.6" cy="633.75" r="1.45"/>
<circle cx="145.4" cy="634.6" r="1.45"/>
<circle cx="143.5" cy="657.75" r="1.45"/>
<circle cx="141.6" cy="662.25" r="1.45"/>
<circle cx="145.4" cy="665.6" r="1.45"/>
<circle cx="139.75" cy="669" r="1.45"/>
<circle cx="143.5" cy="669.6" r="1.45"/>
<circle cx="147.25" cy="669" r="1.45"/>
<circle cx="143.5" cy="678.75" r="1.45"/>
<circle cx="141.6" cy="690.25" r="1.45"/>
<circle cx="145.4" cy="689.75" r="1.45"/>
<circle cx="139.75" cy="694" r="1.45"/>
<circle cx="147.25" cy="694" r="1.45"/>
<circle cx="143.5" cy="696.5" r="1.45"/>
<circle cx="145.4" cy="700" r="1.45"/>
<circle cx="141.6" cy="701.6" r="1.45"/>
<circle cx="141.6" cy="724.4" r="1.45"/>
<circle cx="147.25" cy="724.4" r="1.45"/>
<circle cx="145.4" cy="727.75" r="1.45"/>
<circle cx="141.6" cy="730.9" r="1.45"/>
</g>
<path d="M128.75 634H158.1" stroke="#111" stroke-width="1.4" fill="none"/>
<path d="M136.25 691H150.9M143.5 618.75V691" stroke="#111" stroke-width="0.9" fill="none"/>
<g fill="#111">
<rect x="185.65" y="663.35" width="2.7" height="2.7"/>
<rect x="185.65" y="705.05" width="2.7" height="2.7"/>
<rect x="180.75" y="714.45" width="2.7" height="2.7"/>
<rect x="184.15" y="716.05" width="2.7" height="2.7"/>
<rect x="187.65" y="716.05" width="2.7" height="2.7"/>
<rect x="191.35" y="715.05" width="2.7" height="2.7"/>
<rect x="175.25" y="720.35" width="2.7" height="2.7"/>
<rect x="178.75" y="721.75" width="2.7" height="2.7"/>
<rect x="192.95" y="721.75" width="2.7" height="2.7"/>
<rect x="196.45" y="720.35" width="2.7" height="2.7"/>
<rect x="182.15" y="722.95" width="2.7" height="2.7"/>
<rect x="189.45" y="722.95" width="2.7" height="2.7"/>
<rect x="173.25" y="724.85" width="2.7" height="2.7"/>
<rect x="177.25" y="725.65" width="2.7" height="2.7"/>
<rect x="180.75" y="726.25" width="2.7" height="2.7"/>
<rect x="184.15" y="726.25" width="2.7" height="2.7"/>
<rect x="187.65" y="726.25" width="2.7" height="2.7"/>
<rect x="191.35" y="726.25" width="2.7" height="2.7"/>
<rect x="194.95" y="725.65" width="2.7" height="2.7"/>
<rect x="198.45" y="724.85" width="2.7" height="2.7"/>
<rect x="177.25" y="729.25" width="2.7" height="2.7"/>
<rect x="180.75" y="729.75" width="2.7" height="2.7"/>
<rect x="184.15" y="728.25" width="2.7" height="2.7"/>
<rect x="187.65" y="728.25" width="2.7" height="2.7"/>
<rect x="191.35" y="729.75" width="2.7" height="2.7"/>
<rect x="194.95" y="729.25" width="2.7" height="2.7"/>
<rect x="182.15" y="731.15" width="2.7" height="2.7"/>
<rect x="189.45" y="731.15" width="2.7" height="2.7"/>
<rect x="184.15" y="732.75" width="2.7" height="2.7"/>
<rect x="187.65" y="732.15" width="2.7" height="2.7"/>
</g>
<path d="M172.7 725.6H201.8" stroke="#111" stroke-width="1.4" fill="none"/>
<path d="M180.1 720.3H194.3M180.1 729.6H194.3M187.1 720.3V729.6" stroke="#111" stroke-width="0.9" fill="none"/>
<g fill="#111">
<path d="M231 661.5l1.75 3h-3.5z"/>
<path d="M232.6 703.9l1.75 3h-3.5z"/>
<path d="M227.3 706.7l1.75 3h-3.5z"/>
<path d="M229.3 709.2l1.75 3h-3.5z"/>
<path d="M234.6 711.2l1.75 3h-3.5z"/>
<path d="M229.3 715.1l1.75 3h-3.5z"/>
<path d="M231 720l1.75 3h-3.5z"/>
<path d="M229.7 724.9l1.75 3h-3.5z"/>
<path d="M232.6 724.9l1.75 3h-3.5z"/>
<path d="M238.1 726.5l1.75 3h-3.5z"/>
<path d="M223.8 727.3l1.75 3h-3.5z"/>
<path d="M218.3 731.2l1.75 3h-3.5z"/>
<path d="M221.4 731.8l1.75 3h-3.5z"/>
<path d="M224.2 731.8l1.75 3h-3.5z"/>
<path d="M227.3 731.8l1.75 3h-3.5z"/>
<path d="M231 731.8l1.75 3h-3.5z"/>
<path d="M234.6 731.8l1.75 3h-3.5z"/>
<path d="M237.5 731.8l1.75 3h-3.5z"/>
<path d="M240.9 731.8l1.75 3h-3.5z"/>
<path d="M243.8 731.2l1.75 3h-3.5z"/>
<path d="M231 734.7l1.75 3h-3.5z"/>
</g>
<path d="M216.3 729.6H245.8" stroke="#111" stroke-width="1.4" fill="none"/>
<path d="M223.8 714.4H238.5M223.8 733.5H238.5M231.1 714.4V733.5" stroke="#111" stroke-width="0.9" fill="none"/>
<path d="M137.5 573.75H190M137.5 571.25v5M190 571.25v5" stroke="#2a2a2a" stroke-width="1" fill="none"/>
<text class="pv" x="161.75" y="567.6">p&lt; 0.0001</text>
<g stroke="#111" stroke-width="1" fill="none">
<path d="M335 737.1V618.75"/>
<path d="M335 610V558.9"/>
<path d="M334.6 736.7H554.6"/>
<path d="M332.2 618.75h5.6M332.2 610h5.6"/>
<path d="M335 736.7h-3.6"/>
<path d="M335 703h-3.6"/>
<path d="M335 669.3h-3.6"/>
<path d="M335 635.6h-3.6"/>
<path d="M335 605h-3.6"/>
<path d="M335 589.75h-3.6"/>
<path d="M335 574.5h-3.6"/>
<path d="M335 559.3h-3.6"/>
<path d="M356.75 736.7v3.4"/>
<path d="M400.75 736.7v3.4"/>
<path d="M444.6 736.7v3.4"/>
<path d="M488.4 736.7v3.4"/>
<path d="M532.25 736.7v3.4"/>
</g>
<g class="yt">
<text x="330.4" y="739.6">0</text>
<text x="330.4" y="705.9">2000</text>
<text x="330.4" y="672.2">4000</text>
<text x="330.4" y="638.5">6000</text>
<text x="330.4" y="607.9">10000</text>
<text x="330.4" y="592.65">20000</text>
<text x="330.4" y="577.4">30000</text>
<text x="330.4" y="562.2">40000</text>
</g>
<text class="yl" style="letter-spacing:1.4px" transform="translate(307.3 689.3) rotate(-90)">MFI (median, IQR)</text>
<text class="tt" x="418.75" y="550.5" style="letter-spacing:1.73px">DBL4 FCR3</text>
<g class="xl">
<text x="358.4" y="752.6">MG</text>
<text x="402.8" y="752.6">US</text>
<text x="384.7" y="765.8">controls</text>
<text x="443.05" y="752.6">cord</text>
<text class="dg" x="491.05" y="752.6">21-28</text>
<text class="dg" x="535.3" y="752.6">35-56</text>
<text x="494.15" y="765.8">weeks</text>
<text x="538.4" y="765.8">weeks</text>
</g>
<path d="M337.3 687.9H554.6" stroke="#111" stroke-width="1.5" stroke-dasharray="1.5 2.06" fill="none"/>
<path d="M421 546V770" stroke="#5050d6" stroke-width="1.2" fill="none"/>
<g fill="#111">
<circle cx="358.75" cy="584.25" r="1.16"/>
<circle cx="355" cy="588" r="1.16"/>
<circle cx="356.75" cy="602" r="1.16"/>
<circle cx="356.75" cy="607.5" r="1.16"/>
<circle cx="356.75" cy="648.75" r="1.16"/>
<circle cx="356.75" cy="694.5" r="1.16"/>
<circle cx="355" cy="699.5" r="1.16"/>
<circle cx="358.75" cy="700.75" r="1.16"/>
<circle cx="355" cy="715.5" r="1.16"/>
<circle cx="358.75" cy="714.25" r="1.16"/>
</g>
<path d="M342 671.75H371.75" stroke="#111" stroke-width="1.4" fill="none"/>
<path d="M349.5 598.25H364.25M349.5 704.25H364.25M356.75 598.25V609.7M356.75 618.75V704.25" stroke="#111" stroke-width="0.9" fill="none"/>
<g fill="#111">
<path d="M400.75 681.95l1.49 -2.55h-2.98z"/>
<path d="M398.75 708.2l1.49 -2.55h-2.98z"/>
<path d="M402.5 708.95l1.49 -2.55h-2.98z"/>
<path d="M402.5 719.7l1.49 -2.55h-2.98z"/>
<path d="M398.75 722.7l1.49 -2.55h-2.98z"/>
<path d="M395 727.7l1.49 -2.55h-2.98z"/>
<path d="M400.75 728.2l1.49 -2.55h-2.98z"/>
<path d="M404.5 728.95l1.49 -2.55h-2.98z"/>
<path d="M408 727.7l1.49 -2.55h-2.98z"/>
<path d="M398.75 730.95l1.49 -2.55h-2.98z"/>
<path d="M402.5 731.95l1.49 -2.55h-2.98z"/>
<path d="M406.25 730.2l1.49 -2.55h-2.98z"/>
<path d="M398.75 735.2l1.49 -2.55h-2.98z"/>
</g>
<path d="M386.25 726.75H415" stroke="#111" stroke-width="1.4" fill="none"/>
<path d="M393.25 708H408M393.25 729.5H408M400.75 708V729.5" stroke="#111" stroke-width="0.9" fill="none"/>
<g fill="#111">
<circle cx="444.6" cy="585.4" r="1.45"/>
<circle cx="444.6" cy="593.5" r="1.45"/>
<circle cx="448.1" cy="598.75" r="1.45"/>
<circle cx="440.9" cy="600.4" r="1.45"/>
<circle cx="439.1" cy="602.25" r="1.45"/>
<circle cx="444.6" cy="602.25" r="1.45"/>
<circle cx="450" cy="602.25" r="1.45"/>
<circle cx="446.25" cy="604.4" r="1.45"/>
<circle cx="442.75" cy="605.9" r="1.45"/>
<circle cx="437.5" cy="607.5" r="1.45"/>
<circle cx="440.9" cy="608.1" r="1.45"/>
<circle cx="444.6" cy="609.4" r="1.45"/>
<circle cx="448.1" cy="607.75" r="1.45"/>
<circle cx="451.9" cy="606.6" r="1.45"/>
<circle cx="444.6" cy="620" r="1.45"/>
<circle cx="444.6" cy="625.5" r="1.45"/>
<circle cx="442.75" cy="638.4" r="1.45"/>
<circle cx="446.25" cy="637.5" r="1.45"/>
<circle cx="440.9" cy="650.6" r="1.45"/>
<circle cx="448.1" cy="648.75" r="1.45"/>
<circle cx="444.6" cy="652.1" r="1.45"/>
<circle cx="446.25" cy="656.25" r="1.45"/>
<circle cx="442.75" cy="657.75" r="1.45"/>
<circle cx="442.75" cy="662.1" r="1.45"/>
<circle cx="446.25" cy="665" r="1.45"/>
<circle cx="444.6" cy="672.9" r="1.45"/>
<circle cx="444.6" cy="678.4" r="1.45"/>
<circle cx="440.9" cy="681.6" r="1.45"/>
<circle cx="444.6" cy="683.1" r="1.45"/>
<circle cx="448.1" cy="683.1" r="1.45"/>
<circle cx="442.75" cy="691.6" r="1.45"/>
<circle cx="446.25" cy="692.5" r="1.45"/>
<circle cx="442.75" cy="699.4" r="1.45"/>
<circle cx="446.25" cy="698.75" r="1.45"/>
<circle cx="444.6" cy="708.5" r="1.45"/>
<circle cx="444.6" cy="717.9" r="1.45"/>
<circle cx="444.6" cy="723.1" r="1.45"/>
<circle cx="444.6" cy="729.6" r="1.45"/>
</g>
<path d="M430 649.6H459" stroke="#111" stroke-width="1.4" fill="none"/>
<path d="M437.25 683.1H451.5M444.6 618.75V683.1" stroke="#111" stroke-width="0.9" fill="none"/>
<g fill="#111">
<rect x="487.05" y="693.55" width="2.7" height="2.7"/>
<rect x="487.05" y="700.55" width="2.7" height="2.7"/>
<rect x="487.05" y="709.55" width="2.7" height="2.7"/>
<rect x="485.15" y="716.85" width="2.7" height="2.7"/>
<rect x="488.9" y="717.75" width="2.7" height="2.7"/>
<rect x="479.9" y="720.75" width="2.7" height="2.7"/>
<rect x="482.75" y="723.05" width="2.7" height="2.7"/>
<rect x="487.05" y="723.4" width="2.7" height="2.7"/>
<rect x="490.75" y="723.4" width="2.7" height="2.7"/>
<rect x="494.55" y="722.45" width="2.7" height="2.7"/>
<rect x="473.35" y="724.9" width="2.7" height="2.7"/>
<rect x="476.55" y="725.85" width="2.7" height="2.7"/>
<rect x="479.9" y="726.4" width="2.7" height="2.7"/>
<rect x="483.65" y="726.75" width="2.7" height="2.7"/>
<rect x="487.05" y="726.75" width="2.7" height="2.7"/>
<rect x="490.75" y="726.75" width="2.7" height="2.7"/>
<rect x="493.95" y="726.4" width="2.7" height="2.7"/>
<rect x="497.15" y="725.85" width="2.7" height="2.7"/>
<rect x="500.55" y="724.9" width="2.7" height="2.7"/>
<rect x="476.55" y="728.65" width="2.7" height="2.7"/>
<rect x="479.9" y="729.25" width="2.7" height="2.7"/>
<rect x="483.65" y="729.55" width="2.7" height="2.7"/>
<rect x="487.05" y="729.55" width="2.7" height="2.7"/>
<rect x="490.75" y="729.55" width="2.7" height="2.7"/>
<rect x="494.55" y="729.25" width="2.7" height="2.7"/>
<rect x="497.75" y="728.65" width="2.7" height="2.7"/>
<rect x="487.05" y="732.4" width="2.7" height="2.7"/>
</g>
<path d="M473.75 728.1H502.8" stroke="#111" stroke-width="1.4" fill="none"/>
<g fill="#111">
<path d="M532.25 623.9l1.75 3h-3.5z"/>
<path d="M532.25 687.05l1.75 3h-3.5z"/>
<path d="M532.25 706.7l1.75 3h-3.5z"/>
<path d="M534.1 711.05l1.75 3h-3.5z"/>
<path d="M530 713.3l1.75 3h-3.5z"/>
<path d="M528.7 720.8l1.75 3h-3.5z"/>
<path d="M536 722.1l1.75 3h-3.5z"/>
<path d="M526.8 722.7l1.75 3h-3.5z"/>
<path d="M532.25 718.9l1.75 3h-3.5z"/>
<path d="M532.25 725.5l1.75 3h-3.5z"/>
<path d="M518.75 727.4l1.75 3h-3.5z"/>
<path d="M522.1 728.7l1.75 3h-3.5z"/>
<path d="M525.3 729.8l1.75 3h-3.5z"/>
<path d="M528.7 730.2l1.75 3h-3.5z"/>
<path d="M532.25 730.2l1.75 3h-3.5z"/>
<path d="M535.6 730.2l1.75 3h-3.5z"/>
<path d="M538.8 729.8l1.75 3h-3.5z"/>
<path d="M542.2 729.2l1.75 3h-3.5z"/>
<path d="M545.4 728.3l1.75 3h-3.5z"/>
</g>
<path d="M517.8 727.6H546.9" stroke="#111" stroke-width="1.4" fill="none"/>
<path d="M525.3 717.8H539.4M525.3 731.9H539.4M532.25 717.8V731.9" stroke="#111" stroke-width="0.9" fill="none"/>
<path d="M435.9 579.2H488.25M435.9 576.7v5M488.25 576.7v5" stroke="#2a2a2a" stroke-width="1" fill="none"/>
<text class="pv" x="464.5" y="573">p&lt; 0.0001</text>
<g stroke="#111" stroke-width="1" fill="none">
<path d="M34.3 1005.2V886.8"/>
<path d="M34.3 878.1V827.1"/>
<path d="M33.9 1004.8H253.4"/>
<path d="M31.5 886.8h5.6M31.5 878.1h5.6"/>
<path d="M34.3 1004.8h-3.6"/>
<path d="M34.3 971.2h-3.6"/>
<path d="M34.3 937.5h-3.6"/>
<path d="M34.3 903.8h-3.6"/>
<path d="M34.3 873.4h-3.6"/>
<path d="M34.3 858h-3.6"/>
<path d="M34.3 842.5h-3.6"/>
<path d="M34.3 827.5h-3.6"/>
<path d="M55.8 1004.8v3.4"/>
<path d="M99.6 1004.8v3.4"/>
<path d="M143.5 1004.8v3.4"/>
<path d="M187.25 1004.8v3.4"/>
<path d="M231.25 1004.8v3.4"/>
</g>
<g class="yt">
<text x="29.7" y="1007.7">0</text>
<text x="29.7" y="974.1">2000</text>
<text x="29.7" y="940.4">4000</text>
<text x="29.7" y="906.7">6000</text>
<text x="29.7" y="876.3">10000</text>
<text x="29.7" y="860.9">20000</text>
<text x="29.7" y="845.4">30000</text>
<text x="29.7" y="830.4">40000</text>
</g>
<text class="yl" style="letter-spacing:1.4px" transform="translate(5.9 957.3) rotate(-90)">MFI (median, IQR)</text>
<text class="tt" x="110.75" y="813" style="letter-spacing:1.79px">DBL5 FCR3</text>
<g class="xl">
<text x="57.45" y="1020.5">MG</text>
<text x="101.65" y="1020.5">US</text>
<text x="83.65" y="1033.8">controls</text>
<text x="141.95" y="1020.5">cord</text>
<text class="dg" x="189.9" y="1020.5">21-28</text>
<text class="dg" x="234.3" y="1020.5">35-56</text>
<text x="193" y="1033.8">weeks</text>
<text x="237.4" y="1033.8">weeks</text>
</g>
<path d="M36.6 972.9H253.4" stroke="#111" stroke-width="1.5" stroke-dasharray="1.5 2.06" fill="none"/>
<path d="M119.73 816.3V1040" stroke="#5050d6" stroke-width="1.25" fill="none"/>
<g fill="#111">
<circle cx="48.75" cy="847.9" r="1.16"/>
<circle cx="63.1" cy="846.25" r="1.16"/>
<circle cx="52.25" cy="849.4" r="1.16"/>
<circle cx="55.9" cy="849.6" r="1.16"/>
<circle cx="59.6" cy="849.4" r="1.16"/>
<circle cx="55.9" cy="853.75" r="1.16"/>
<circle cx="52.25" cy="859.6" r="1.16"/>
<circle cx="59.6" cy="859" r="1.16"/>
<circle cx="55.9" cy="870" r="1.16"/>
<circle cx="55.9" cy="877.75" r="1.16"/>
<circle cx="55.5" cy="981.75" r="1.16"/>
<circle cx="55.5" cy="990.75" r="1.16"/>
<circle cx="55.5" cy="995" r="1.16"/>
<circle cx="55.5" cy="999.25" r="1.16"/>
<circle cx="55.5" cy="1004.5" r="1.16"/>
</g>
<path d="M41 859.75H70.6" stroke="#111" stroke-width="1.4" fill="none"/>
<path d="M48.5 849.4H63.1M48.25 987.5H63M55.8 849.4V878M55.8 886.9V987.5" stroke="#111" stroke-width="0.9" fill="none"/>
<g fill="#111">
<path d="M99.6 977.7l1.49 -2.55h-2.98z"/>
<path d="M95.9 980.55l1.49 -2.55h-2.98z"/>
<path d="M103.1 980.55l1.49 -2.55h-2.98z"/>
<path d="M99.6 992.45l1.49 -2.55h-2.98z"/>
<path d="M92.5 994.55l1.49 -2.55h-2.98z"/>
<path d="M106.9 995.45l1.49 -2.55h-2.98z"/>
<path d="M95.9 996.85l1.49 -2.55h-2.98z"/>
<path d="M103.1 997.7l1.49 -2.55h-2.98z"/>
<path d="M99.6 998.35l1.49 -2.55h-2.98z"/>
</g>
<path d="M85 992.25H114.4" stroke="#111" stroke-width="1.4" fill="none"/>
<path d="M92.25 979.4H106.9M92.25 994.4H106.9M99.6 979.4V994.4" stroke="#111" stroke-width="0.9" fill="none"/>
<g fill="#111">
<circle cx="143.5" cy="842.9" r="1.45"/>
<circle cx="140" cy="844.4" r="1.45"/>
<circle cx="143.5" cy="847.75" r="1.45"/>
<circle cx="147.1" cy="846.9" r="1.45"/>
<circle cx="138.1" cy="848.75" r="1.45"/>
<circle cx="141.6" cy="850.6" r="1.45"/>
<circle cx="148.75" cy="850.25" r="1.45"/>
<circle cx="145.4" cy="852.1" r="1.45"/>
<circle cx="138.1" cy="854.4" r="1.45"/>
<circle cx="148.75" cy="854.4" r="1.45"/>
<circle cx="141.6" cy="855.6" r="1.45"/>
<circle cx="145.4" cy="856.25" r="1.45"/>
<circle cx="141.6" cy="858.5" r="1.45"/>
<circle cx="139.75" cy="860" r="1.45"/>
<circle cx="147.1" cy="859.75" r="1.45"/>
<circle cx="143.5" cy="862.5" r="1.45"/>
<circle cx="136.25" cy="863.1" r="1.45"/>
<circle cx="139.75" cy="863.75" r="1.45"/>
<circle cx="147.1" cy="863.75" r="1.45"/>
<circle cx="150.6" cy="863.1" r="1.45"/>
<circle cx="143.5" cy="866.25" r="1.45"/>
<circle cx="147.1" cy="868.75" r="1.45"/>
<circle cx="139.75" cy="870" r="1.45"/>
<circle cx="143.5" cy="871.25" r="1.45"/>
<circle cx="136.25" cy="874" r="1.45"/>
<circle cx="139.75" cy="876.6" r="1.45"/>
<circle cx="143.5" cy="876.6" r="1.45"/>
<circle cx="147.1" cy="876.6" r="1.45"/>
<circle cx="150.6" cy="876.6" r="1.45"/>
<circle cx="143.5" cy="888.1" r="1.45"/>
<circle cx="143.5" cy="895.25" r="1.45"/>
<circle cx="143.5" cy="902.25" r="1.45"/>
<circle cx="143.5" cy="913.5" r="1.45"/>
<circle cx="143.5" cy="950.25" r="1.45"/>
<circle cx="143.5" cy="970.9" r="1.45"/>
<circle cx="141.6" cy="979.6" r="1.45"/>
<circle cx="145.4" cy="982.5" r="1.45"/>
<circle cx="145.4" cy="992.5" r="1.45"/>
<circle cx="141.6" cy="993.4" r="1.45"/>
</g>
<path d="M128.75 865.4H158.1" stroke="#111" stroke-width="1.4" fill="none"/>
<path d="M136.25 854.4H150.9M136.25 889.4H150.9M143.5 854.4V878M143.5 886.9V889.4" stroke="#111" stroke-width="0.9" fill="none"/>
<g fill="#111">
<rect x="185.65" y="875.25" width="2.7" height="2.7"/>
<rect x="185.65" y="894.35" width="2.7" height="2.7"/>
<rect x="185.9" y="947.15" width="2.7" height="2.7"/>
<rect x="185.9" y="953.65" width="2.7" height="2.7"/>
<rect x="184.05" y="957.4" width="2.7" height="2.7"/>
<rect x="187.65" y="959.05" width="2.7" height="2.7"/>
<rect x="182.15" y="963.05" width="2.7" height="2.7"/>
<rect x="189.65" y="964.55" width="2.7" height="2.7"/>
<rect x="185.9" y="965.9" width="2.7" height="2.7"/>
<rect x="180.25" y="968.65" width="2.7" height="2.7"/>
<rect x="191.4" y="968.65" width="2.7" height="2.7"/>
<rect x="184.05" y="970.9" width="2.7" height="2.7"/>
<rect x="187.65" y="971.75" width="2.7" height="2.7"/>
<rect x="185.9" y="978.65" width="2.7" height="2.7"/>
<rect x="180.25" y="981.15" width="2.7" height="2.7"/>
<rect x="193.4" y="981.75" width="2.7" height="2.7"/>
<rect x="184.05" y="982.75" width="2.7" height="2.7"/>
<rect x="187.65" y="983.65" width="2.7" height="2.7"/>
<rect x="191.4" y="985.55" width="2.7" height="2.7"/>
<rect x="180.25" y="986.75" width="2.7" height="2.7"/>
<rect x="184.05" y="988.05" width="2.7" height="2.7"/>
<rect x="187.65" y="988.25" width="2.7" height="2.7"/>
<rect x="182.15" y="992.4" width="2.7" height="2.7"/>
<rect x="189.65" y="992.4" width="2.7" height="2.7"/>
<rect x="185.9" y="994.55" width="2.7" height="2.7"/>
<rect x="187.65" y="998.05" width="2.7" height="2.7"/>
<rect x="184.05" y="1000.75" width="2.7" height="2.7"/>
</g>
<path d="M172.75 980.25H201.9" stroke="#111" stroke-width="1.4" fill="none"/>
<path d="M180 964.4H194.75M180 989.6H194.75M187.25 964.4V989.6" stroke="#111" stroke-width="0.9" fill="none"/>
<g fill="#111">
<path d="M231.25 942.9l1.75 3h-3.5z"/>
<path d="M231.25 962.05l1.75 3h-3.5z"/>
<path d="M224 968.7l1.75 3h-3.5z"/>
<path d="M236.6 968.05l1.75 3h-3.5z"/>
<path d="M233.1 969.3l1.75 3h-3.5z"/>
<path d="M227.25 971.05l1.75 3h-3.5z"/>
<path d="M229.4 971.8l1.75 3h-3.5z"/>
<path d="M235 971.05l1.75 3h-3.5z"/>
<path d="M229.4 974.9l1.75 3h-3.5z"/>
<path d="M233.1 978.3l1.75 3h-3.5z"/>
<path d="M233.1 985.8l1.75 3h-3.5z"/>
<path d="M229.4 987.9l1.75 3h-3.5z"/>
<path d="M217.5 988.9l1.75 3h-3.5z"/>
<path d="M220.6 989.2l1.75 3h-3.5z"/>
<path d="M241.9 989.2l1.75 3h-3.5z"/>
<path d="M244.75 988.9l1.75 3h-3.5z"/>
<path d="M222.25 990.2l1.75 3h-3.5z"/>
<path d="M225 990.8l1.75 3h-3.5z"/>
<path d="M227.75 991.4l1.75 3h-3.5z"/>
<path d="M231.25 991.7l1.75 3h-3.5z"/>
<path d="M234.75 991.4l1.75 3h-3.5z"/>
<path d="M237.5 990.8l1.75 3h-3.5z"/>
<path d="M240.25 989.9l1.75 3h-3.5z"/>
<path d="M224 994.55l1.75 3h-3.5z"/>
<path d="M238.4 995.2l1.75 3h-3.5z"/>
<path d="M227.75 996.7l1.75 3h-3.5z"/>
<path d="M231.25 996.8l1.75 3h-3.5z"/>
<path d="M234.75 996.7l1.75 3h-3.5z"/>
</g>
<path d="M216.5 990.6H245.6" stroke="#111" stroke-width="1.4" fill="none"/>
<path d="M224 973.1H238.1M224 993.8H238.1M231.25 973.1V993.8" stroke="#111" stroke-width="0.9" fill="none"/>
<path d="M131.4 836.7H186.75M131.4 834.2v5M186.75 834.2v5" stroke="#2a2a2a" stroke-width="1" fill="none"/>
<text class="pv" x="161.1" y="831.3">p&lt; 0.0001</text>
<path d="M187.4 870.3H228.7M187.4 867.8v5M228.7 867.8v5" stroke="#2a2a2a" stroke-width="1" fill="none"/>
<text class="pv" x="207.5" y="868">p=0.03</text>
<g stroke="#111" stroke-width="1" fill="none">
<path d="M335 1005.1V886.75"/>
<path d="M335 878V827.1"/>
<path d="M334.6 1004.7H554.8"/>
<path d="M332.2 886.75h5.6M332.2 878h5.6"/>
<path d="M335 1004.7h-3.6"/>
<path d="M335 971.25h-3.6"/>
<path d="M335 937.5h-3.6"/>
<path d="M335 903.75h-3.6"/>
<path d="M335 873.25h-3.6"/>
<path d="M335 858h-3.6"/>
<path d="M335 842.5h-3.6"/>
<path d="M335 827.5h-3.6"/>
<path d="M357 1004.7v3.4"/>
<path d="M400.6 1004.7v3.4"/>
<path d="M444.6 1004.7v3.4"/>
<path d="M488.5 1004.7v3.4"/>
<path d="M532.1 1004.7v3.4"/>
</g>
<g class="yt">
<text x="330.4" y="1007.6">0</text>
<text x="330.4" y="974.15">2000</text>
<text x="330.4" y="940.4">4000</text>
<text x="330.4" y="906.65">6000</text>
<text x="330.4" y="876.15">10000</text>
<text x="330.4" y="860.9">20000</text>
<text x="330.4" y="845.4">30000</text>
<text x="330.4" y="830.4">40000</text>
</g>
<text class="yl" style="letter-spacing:1.4px" transform="translate(307.3 957.3) rotate(-90)">MFI (median, IQR)</text>
<text class="tt" x="418" y="813.75" style="letter-spacing:1.66px">DBL6 FCR3</text>
<g class="xl">
<text x="358.65" y="1020.5">MG</text>
<text x="402.65" y="1020.5">US</text>
<text x="384.75" y="1033.8">controls</text>
<text x="443.05" y="1020.5">cord</text>
<text class="dg" x="491.15" y="1020.5">21-28</text>
<text class="dg" x="535.15" y="1020.5">35-56</text>
<text x="494.25" y="1033.8">weeks</text>
<text x="538.25" y="1033.8">weeks</text>
</g>
<path d="M337.3 970.5H554.8" stroke="#111" stroke-width="1.5" stroke-dasharray="1.5 2.06" fill="none"/>
<path d="M421 816.3V1040" stroke="#5050d6" stroke-width="1.2" fill="none"/>
<g fill="#111">
<circle cx="356.75" cy="865.5" r="1.16"/>
<circle cx="356.75" cy="871.75" r="1.16"/>
<circle cx="356.9" cy="921.5" r="1.16"/>
<circle cx="357" cy="975.6" r="1.16"/>
<circle cx="357" cy="985.5" r="1.16"/>
<circle cx="355.1" cy="992.4" r="1.16"/>
<circle cx="358.8" cy="992.4" r="1.16"/>
<circle cx="353.2" cy="996.8" r="1.16"/>
<circle cx="360.7" cy="997.3" r="1.16"/>
<circle cx="357" cy="999.7" r="1.16"/>
</g>
<path d="M342.2 989.1H371.6" stroke="#111" stroke-width="1.4" fill="none"/>
<path d="M349.5 895.75H364.25M349.8 996.8H364.25M357 895.75V996.8" stroke="#111" stroke-width="0.9" fill="none"/>
<g fill="#111">
<path d="M400.6 968.55l1.49 -2.55h-2.98z"/>
<path d="M400.6 982.45l1.49 -2.55h-2.98z"/>
<path d="M398.8 986.75l1.49 -2.55h-2.98z"/>
<path d="M404.4 987.45l1.49 -2.55h-2.98z"/>
<path d="M402.5 990.65l1.49 -2.55h-2.98z"/>
<path d="M398.8 993.75l1.49 -2.55h-2.98z"/>
<path d="M404.4 996.35l1.49 -2.55h-2.98z"/>
<path d="M396.9 998.55l1.49 -2.55h-2.98z"/>
<path d="M400.6 999.05l1.49 -2.55h-2.98z"/>
<path d="M402.5 1001.45l1.49 -2.55h-2.98z"/>
<path d="M398.8 1003.85l1.49 -2.55h-2.98z"/>
</g>
<path d="M386.1 992.3H415" stroke="#111" stroke-width="1.4" fill="none"/>
<path d="M393.3 984.4H408.1M393.3 997.3H408.1M400.6 984.4V997.3" stroke="#111" stroke-width="0.9" fill="none"/>
<g fill="#111">
<circle cx="444.6" cy="906.6" r="1.45"/>
<circle cx="442.75" cy="916" r="1.45"/>
<circle cx="446.5" cy="916" r="1.45"/>
<circle cx="440.9" cy="937.1" r="1.45"/>
<circle cx="444.6" cy="940" r="1.45"/>
<circle cx="448.1" cy="939.1" r="1.45"/>
<circle cx="444.6" cy="949.2" r="1.45"/>
<circle cx="446.25" cy="954.4" r="1.45"/>
<circle cx="442.75" cy="955.4" r="1.45"/>
<circle cx="440.9" cy="958.75" r="1.45"/>
<circle cx="444.6" cy="959.1" r="1.45"/>
<circle cx="448.1" cy="958.5" r="1.45"/>
<circle cx="435.6" cy="967.5" r="1.45"/>
<circle cx="439.1" cy="968.1" r="1.45"/>
<circle cx="444.6" cy="967.25" r="1.45"/>
<circle cx="450" cy="968.4" r="1.45"/>
<circle cx="453.5" cy="967.9" r="1.45"/>
<circle cx="433.75" cy="970.9" r="1.45"/>
<circle cx="437.25" cy="971.25" r="1.45"/>
<circle cx="440.9" cy="970.6" r="1.45"/>
<circle cx="444.6" cy="970.9" r="1.45"/>
<circle cx="448.1" cy="970.6" r="1.45"/>
<circle cx="451.6" cy="971.25" r="1.45"/>
<circle cx="455.25" cy="970.9" r="1.45"/>
<circle cx="440.9" cy="974.4" r="1.45"/>
<circle cx="444.6" cy="974.4" r="1.45"/>
<circle cx="448.1" cy="974.1" r="1.45"/>
<circle cx="440.9" cy="978.5" r="1.45"/>
<circle cx="448.1" cy="978.1" r="1.45"/>
<circle cx="437.5" cy="981.6" r="1.45"/>
<circle cx="444.6" cy="981.25" r="1.45"/>
<circle cx="453.5" cy="982.1" r="1.45"/>
<circle cx="440.9" cy="983.1" r="1.45"/>
<circle cx="448.1" cy="983.1" r="1.45"/>
<circle cx="437.25" cy="985.6" r="1.45"/>
<circle cx="444.6" cy="985" r="1.45"/>
<circle cx="451.6" cy="985.4" r="1.45"/>
<circle cx="440.9" cy="987.9" r="1.45"/>
<circle cx="448.1" cy="987.5" r="1.45"/>
<circle cx="444.6" cy="988.75" r="1.45"/>
<circle cx="444.6" cy="994.6" r="1.45"/>
</g>
<path d="M430 971H459" stroke="#111" stroke-width="1.4" fill="none"/>
<path d="M437.25 957.75H451.5M437.25 982.1H451.5M444.6 957.75V982.1" stroke="#111" stroke-width="0.9" fill="none"/>
<g fill="#111">
<rect x="487.15" y="957.75" width="2.7" height="2.7"/>
<rect x="487.15" y="982.05" width="2.7" height="2.7"/>
<rect x="479.9" y="987.4" width="2.7" height="2.7"/>
<rect x="483.4" y="989.25" width="2.7" height="2.7"/>
<rect x="487.15" y="989.65" width="2.7" height="2.7"/>
<rect x="490.9" y="989.25" width="2.7" height="2.7"/>
<rect x="494.25" y="988.65" width="2.7" height="2.7"/>
<rect x="474.25" y="992.05" width="2.7" height="2.7"/>
<rect x="477.4" y="992.65" width="2.7" height="2.7"/>
<rect x="497.4" y="992.15" width="2.7" height="2.7"/>
<rect x="499.9" y="991.55" width="2.7" height="2.7"/>
<rect x="475.55" y="993.65" width="2.7" height="2.7"/>
<rect x="478.65" y="994.25" width="2.7" height="2.7"/>
<rect x="481.75" y="994.65" width="2.7" height="2.7"/>
<rect x="484.9" y="994.9" width="2.7" height="2.7"/>
<rect x="488.05" y="994.9" width="2.7" height="2.7"/>
<rect x="490.9" y="994.65" width="2.7" height="2.7"/>
<rect x="494.25" y="994.25" width="2.7" height="2.7"/>
<rect x="497.15" y="993.65" width="2.7" height="2.7"/>
<rect x="473.65" y="995.75" width="2.7" height="2.7"/>
<rect x="476.75" y="996.4" width="2.7" height="2.7"/>
<rect x="479.9" y="996.75" width="2.7" height="2.7"/>
<rect x="483.05" y="997.15" width="2.7" height="2.7"/>
<rect x="485.9" y="997.4" width="2.7" height="2.7"/>
<rect x="489.25" y="997.15" width="2.7" height="2.7"/>
<rect x="492.4" y="996.75" width="2.7" height="2.7"/>
<rect x="495.55" y="996.4" width="2.7" height="2.7"/>
<rect x="498.4" y="995.9" width="2.7" height="2.7"/>
<rect x="500.9" y="995.55" width="2.7" height="2.7"/>
<rect x="482.4" y="998.65" width="2.7" height="2.7"/>
<rect x="485.55" y="999.65" width="2.7" height="2.7"/>
<rect x="488.65" y="999.25" width="2.7" height="2.7"/>
<rect x="491.75" y="998.4" width="2.7" height="2.7"/>
</g>
<path d="M473.75 996.3H503.1" stroke="#111" stroke-width="1.4" fill="none"/>
<path d="M481.25 991H495.75M488.5 991V996.3" stroke="#111" stroke-width="0.9" fill="none"/>
<g fill="#111">
<path d="M530.4 960.38l1.66 2.85h-3.32z"/>
<path d="M534.1 963.13l1.66 2.85h-3.32z"/>
<path d="M534.1 975.28l1.66 2.85h-3.32z"/>
<path d="M530.4 976.59l1.66 2.85h-3.32z"/>
<path d="M535.9 979.13l1.66 2.85h-3.32z"/>
<path d="M528.7 981.49l1.66 2.85h-3.32z"/>
<path d="M532.1 981.78l1.66 2.85h-3.32z"/>
<path d="M526.9 988.38l1.66 2.85h-3.32z"/>
<path d="M530.4 988.99l1.66 2.85h-3.32z"/>
<path d="M534.1 988.99l1.66 2.85h-3.32z"/>
<path d="M537.7 988.38l1.66 2.85h-3.32z"/>
<path d="M528.7 992.28l1.66 2.85h-3.32z"/>
<path d="M532.1 993.09l1.66 2.85h-3.32z"/>
<path d="M535.6 992.28l1.66 2.85h-3.32z"/>
<path d="M519.4 995.09l1.66 2.85h-3.32z"/>
<path d="M522.5 995.38l1.66 2.85h-3.32z"/>
<path d="M525.8 995.99l1.66 2.85h-3.32z"/>
<path d="M528.7 995.99l1.66 2.85h-3.32z"/>
<path d="M535 995.99l1.66 2.85h-3.32z"/>
<path d="M538.5 995.78l1.66 2.85h-3.32z"/>
<path d="M541.8 995.38l1.66 2.85h-3.32z"/>
<path d="M544.9 995.09l1.66 2.85h-3.32z"/>
<path d="M532.1 998.09l1.66 2.85h-3.32z"/>
</g>
<path d="M517.6 993.2H546.7" stroke="#111" stroke-width="1.4" fill="none"/>
<path d="M525.2 982.85H539.1M525.2 997.2H539.1M532.1 982.85V997.2" stroke="#111" stroke-width="0.9" fill="none"/>
<path d="M440.5 900.8H493M440.5 898.3v5M493 898.3v5" stroke="#2a2a2a" stroke-width="1" fill="none"/>
<text class="pv" x="466.25" y="895.5">p&lt; 0.0001</text>
</svg></body></html>
